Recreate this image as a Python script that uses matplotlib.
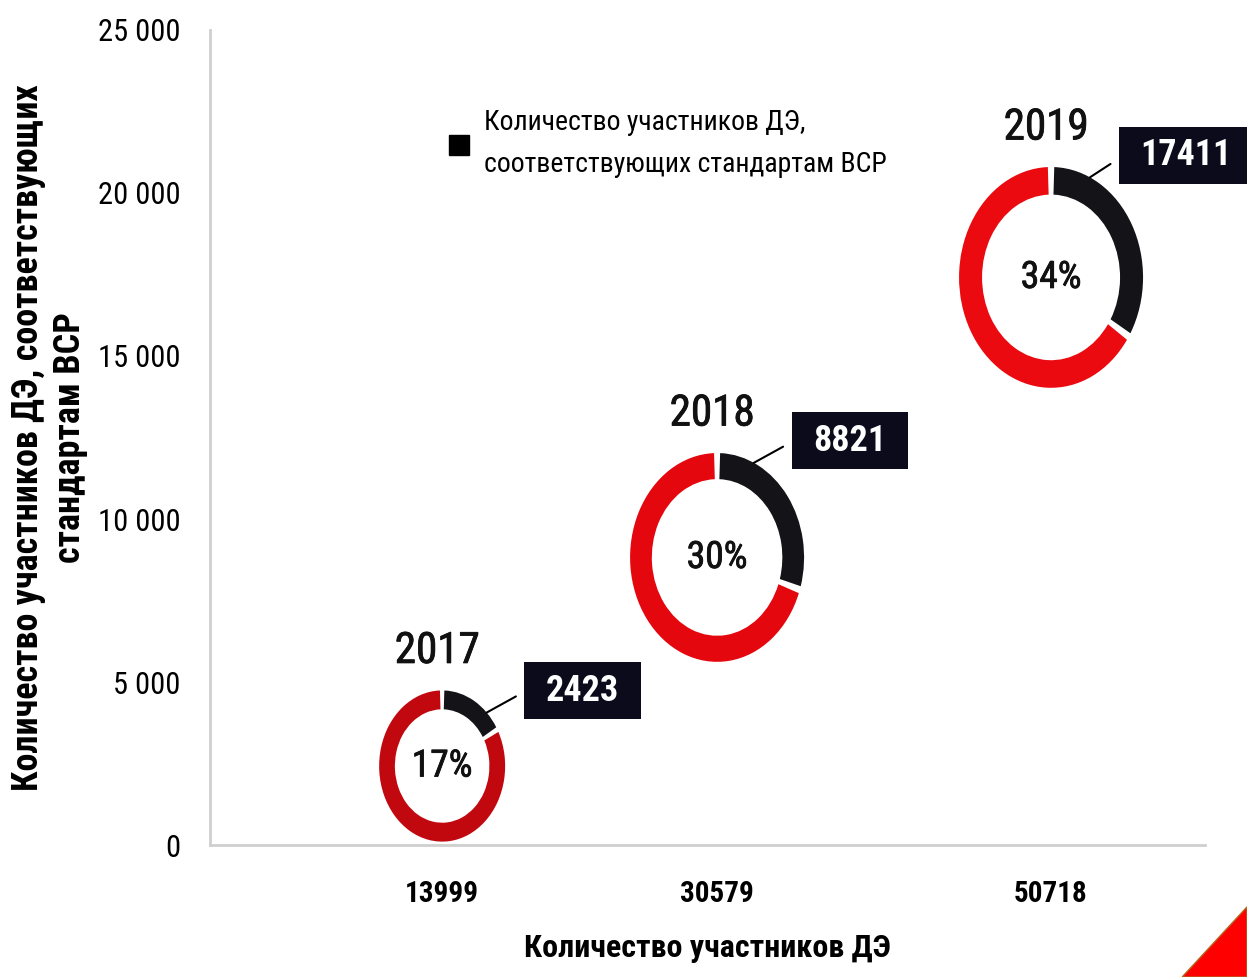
import numpy as np
import matplotlib
matplotlib.use('Agg')
import matplotlib.pyplot as plt
import matplotlib.patheffects as pe
from matplotlib.patches import Wedge, Polygon
from matplotlib.lines import Line2D
from matplotlib.path import Path
from matplotlib.ticker import FuncFormatter
from matplotlib.transforms import Affine2D, ScaledTranslation

plt.rcParams['font.family'] = ['Roboto Condensed', 'Liberation Sans Narrow', 'DejaVu Sans']

# данные
years = ['2017', '2018', '2019']
participants = [13999, 30579, 50718]      # ось X
compliant = [2423, 8821, 17411]           # ось Y
share_pct = [17, 30, 34]                  # доля в кольце
y_ticks = [0, 5000, 10000, 15000, 20000, 25000]

# стиль
ring_red = ['#c1080e', '#e4070e', '#ea0a10']
ring_dark = '#141418'
box_color = '#0b0b1c'
radius_in = [0.63, 0.87, 0.92]   # радиус кольца, дюймы
stretch = 1.2                     # кольца вытянуты по вертикали
ring_w = 0.25
lead_deg = [45, 25, 25]
gap = 2.0
thick = [pe.withStroke(linewidth=0.6, foreground='#111111')]


def wide_box(x0, y0, width, height, mutation_size):
    px = 0.6 * mutation_size
    py = 0.29 * mutation_size
    x1, y1 = x0 - px, y0 - py
    x2, y2 = x0 + width + px, y0 + height + py
    return Path([(x1, y1), (x2, y1), (x2, y2), (x1, y2), (x1, y1)],
                [Path.MOVETO, Path.LINETO, Path.LINETO, Path.LINETO, Path.CLOSEPOLY])


fig = plt.figure(figsize=(12.47, 9.77), dpi=100)
ax = fig.add_axes([0.1684, 0.1351, 0.7979, 0.8342])
ax.set_xlim(0, 60000)
ax.set_ylim(0, 25000)

for i in range(len(years)):
    x, y = participants[i], compliant[i]
    r = radius_in[i]
    trans = Affine2D().scale(1, stretch) + fig.dpi_scale_trans + ScaledTranslation(x, y, ax.transData)
    black = share_pct[i] / 100 * 360
    ax.add_patch(Wedge((0, 0), r, 90 - black + gap, 90 - gap, width=r * ring_w,
                       facecolor=ring_dark, edgecolor='none', transform=trans))
    ax.add_patch(Wedge((0, 0), r, 90 + gap, 450 - black - gap, width=r * ring_w,
                       facecolor=ring_red[i], edgecolor='none', transform=trans))

    ax.text(x, y, f'{share_pct[i]}%', ha='center', va='center', fontsize=27,
            color='#111111', path_effects=thick)

    ax.annotate(years[i], xy=(x, y), xycoords='data',
                xytext=(-5, r * stretch * 100 + 39), textcoords='offset pixels',
                ha='center', va='center', fontsize=31, color='#111111', path_effects=thick)

    a = np.deg2rad(lead_deg[i])
    ax.annotate(str(compliant[i]), xy=(r * np.sin(a), r * np.cos(a)), xycoords=trans,
                xytext=(96, 22), textcoords='offset pixels',
                ha='center', va='center', fontsize=26, fontweight='bold', color='white',
                bbox=dict(boxstyle=wide_box, facecolor=box_color, edgecolor='none'),
                arrowprops=dict(arrowstyle='-', color='black', lw=1.5,
                                relpos=(0, 0.8), shrinkA=7, shrinkB=0))

ax.set_xticks(participants)
ax.set_xticklabels([str(v) for v in participants], fontsize=21, fontweight='bold')
ax.set_yticks(y_ticks)
ax.yaxis.set_major_formatter(FuncFormatter(lambda v, p: f'{int(v):,}'.replace(',', ' ')))
ax.tick_params(axis='y', length=0, pad=21, labelsize=22)
ax.tick_params(axis='x', length=0, pad=25)

for s in ['top', 'right']:
    ax.spines[s].set_visible(False)
for s in ['left', 'bottom']:
    ax.spines[s].set_color('#cfcfcf')
    ax.spines[s].set_linewidth(2)

ax.set_xlabel('Количество участников ДЭ', fontsize=23, fontweight='bold')
ax.xaxis.set_label_coords(0.5, -0.108)
ax.set_ylabel('Количество участников ДЭ, соответствующих\nстандартам ВСР', fontsize=26, fontweight='bold')
ax.yaxis.set_label_coords(-0.1227, 0.5)

handle = Line2D([], [], marker='s', linestyle='none', color='black', markersize=14)
leg = ax.legend([handle], ['Количество участников ДЭ,\nсоответствующих стандартам ВСР'],
                loc='upper left', bbox_to_anchor=(0.357, 0.888), bbox_transform=fig.transFigure,
                frameon=False, fontsize=20, handlelength=1, handletextpad=0.4,
                borderpad=0, borderaxespad=0)
for t in leg.get_texts():
    t.set_linespacing(1.7)

# красный уголок внизу справа
fig.add_artist(Polygon([(0.948, 0), (1, 0.0717), (1, 0)], closed=True, transform=fig.transFigure,
                       facecolor='#ff0000', edgecolor='#b5651d', linewidth=1))

fig.savefig('out.png', dpi=100)
